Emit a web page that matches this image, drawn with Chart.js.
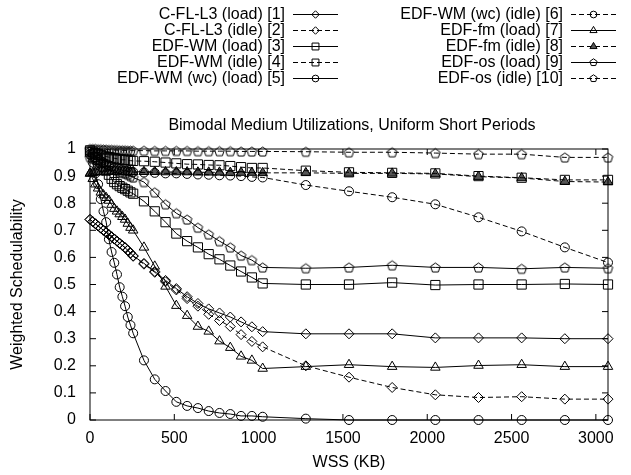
<!DOCTYPE html>
<html>
<head>
<meta charset="utf-8">
<script src="https://cdn.jsdelivr.net/npm/chart.js@4.4.0/dist/chart.umd.min.js"></script>
<style>
  html, body { margin: 0; padding: 0; background: #fff; }
</style>
</head>
<body>
<canvas id="schedChart" width="631" height="475"></canvas>
<script>
// WSS (KB) sample points
var wss = [0, 16, 32, 48, 64, 80, 96, 112, 128, 144, 160, 176, 192, 208, 224, 240, 256,
  320, 384, 448, 512, 576, 640, 704, 768, 832, 896, 960, 1024,
  1280, 1536, 1792, 2048, 2304, 2560, 2816, 3072];

var cfl3Load = [0.74, 0.732, 0.724, 0.716, 0.708, 0.70, 0.692, 0.684, 0.676, 0.668, 0.66, 0.652, 0.644, 0.636, 0.626, 0.616, 0.606,
  0.578, 0.548, 0.515, 0.485, 0.455, 0.43, 0.41, 0.395, 0.38, 0.362, 0.344, 0.326,
  0.318, 0.318, 0.318, 0.303, 0.303, 0.303, 0.30, 0.30];
var cfl3Idle = [0.74, 0.732, 0.724, 0.716, 0.708, 0.70, 0.692, 0.684, 0.676, 0.668, 0.66, 0.652, 0.644, 0.636, 0.626, 0.616, 0.604,
  0.575, 0.545, 0.51, 0.48, 0.448, 0.42, 0.39, 0.367, 0.345, 0.315, 0.29, 0.27,
  0.20, 0.158, 0.12, 0.093, 0.083, 0.086, 0.077, 0.077];
var wmLoad = [0.99, 0.98, 0.97, 0.96, 0.95, 0.935, 0.92, 0.905, 0.89, 0.878, 0.87, 0.863, 0.857, 0.852, 0.846, 0.84, 0.835,
  0.807, 0.77, 0.73, 0.688, 0.66, 0.637, 0.612, 0.593, 0.57, 0.548, 0.526, 0.504,
  0.50, 0.50, 0.507, 0.498, 0.50, 0.50, 0.502, 0.50];
var wmIdle = [0.995, 0.99, 0.985, 0.98, 0.978, 0.975, 0.972, 0.97, 0.968, 0.966, 0.964, 0.962, 0.96, 0.96, 0.958, 0.957, 0.956,
  0.955, 0.953, 0.95, 0.947, 0.944, 0.943, 0.941, 0.94, 0.937, 0.933, 0.93, 0.93,
  0.92, 0.914, 0.912, 0.91, 0.90, 0.894, 0.886, 0.886];
var wmWcLoad = [0.98, 0.95, 0.91, 0.87, 0.815, 0.77, 0.73, 0.667, 0.62, 0.58, 0.537, 0.49, 0.455, 0.42, 0.38, 0.35, 0.32,
  0.22, 0.15, 0.107, 0.067, 0.052, 0.044, 0.033, 0.026, 0.022, 0.015, 0.015, 0.012,
  0.005, 0, 0, 0, 0, 0, 0, 0];
var wmWcIdle = [0.99, 0.98, 0.97, 0.96, 0.955, 0.95, 0.945, 0.94, 0.935, 0.93, 0.928, 0.925, 0.922, 0.92, 0.918, 0.916, 0.915,
  0.913, 0.912, 0.91, 0.91, 0.908, 0.906, 0.905, 0.903, 0.902, 0.90, 0.897, 0.895,
  0.867, 0.844, 0.822, 0.796, 0.748, 0.696, 0.637, 0.581];
var fmLoad = [0.91, 0.89, 0.87, 0.855, 0.84, 0.83, 0.82, 0.81, 0.795, 0.78, 0.77, 0.76, 0.75, 0.74, 0.725, 0.71, 0.70,
  0.637, 0.567, 0.493, 0.422, 0.385, 0.345, 0.327, 0.291, 0.267, 0.235, 0.22, 0.19,
  0.197, 0.204, 0.197, 0.194, 0.201, 0.204, 0.197, 0.197];
var fmIdle = [0.91, 0.912, 0.914, 0.915, 0.916, 0.916, 0.917, 0.917, 0.917, 0.917, 0.917, 0.917, 0.917, 0.916, 0.916, 0.916, 0.916,
  0.916, 0.916, 0.915, 0.915, 0.915, 0.914, 0.914, 0.914, 0.913, 0.913, 0.913, 0.912,
  0.912, 0.91, 0.91, 0.908, 0.898, 0.893, 0.88, 0.878];
var osLoad = [0.97, 0.965, 0.96, 0.955, 0.95, 0.945, 0.94, 0.935, 0.93, 0.925, 0.92, 0.915, 0.912, 0.91, 0.905, 0.90, 0.895,
  0.878, 0.84, 0.796, 0.763, 0.74, 0.71, 0.685, 0.66, 0.637, 0.607, 0.59, 0.563,
  0.56, 0.563, 0.571, 0.563, 0.563, 0.558, 0.563, 0.56];
var osIdle = [1.0, 1.0, 1.0, 0.999, 0.999, 0.998, 0.998, 0.997, 0.997, 0.996, 0.996, 0.995, 0.995, 0.995, 0.994, 0.994, 0.994,
  0.994, 0.993, 0.993, 0.993, 0.993, 0.992, 0.992, 0.992, 0.992, 0.991, 0.991, 0.991,
  0.99, 0.988, 0.988, 0.985, 0.981, 0.981, 0.969, 0.969];

var xTicks = [0, 500, 1000, 1500, 2000, 2500, 3000];
var chartTitle = 'Bimodal Medium Utilizations, Uniform Short Periods';

Chart.defaults.font.family = "'Liberation Sans', Arial, sans-serif";
Chart.defaults.font.size = 16;
Chart.defaults.color = '#000';

// pentagon marker (gnuplot style), drawn once into a small canvas
function pentagonPath(ctx, cx, cy, r) {
  ctx.beginPath();
  for (var k = 0; k < 5; k++) {
    var a = -Math.PI / 2 + k * 2 * Math.PI / 5;
    var px = cx + r * Math.cos(a), py = cy + r * Math.sin(a);
    if (k === 0) ctx.moveTo(px, py); else ctx.lineTo(px, py);
  }
  ctx.closePath();
}
var pent = document.createElement('canvas');
pent.width = 13; pent.height = 13;
(function () {
  var c = pent.getContext('2d');
  c.strokeStyle = '#000';
  c.lineWidth = 1;
  pentagonPath(c, 6.5, 7, 5);
  c.stroke();
})();

var series = [
  { label: 'C-FL-L3 (load) [1]', data: cfl3Load, style: 'rectRot', r: 5, dash: [] },
  { label: 'C-FL-L3 (idle) [2]', data: cfl3Idle, style: 'rectRot', r: 5, dash: [5, 3] },
  { label: 'EDF-WM (load) [3]', data: wmLoad, style: 'rect', r: 6.5, dash: [] },
  { label: 'EDF-WM (idle) [4]', data: wmIdle, style: 'rect', r: 6.5, dash: [5, 3] },
  { label: 'EDF-WM (wc) (load) [5]', data: wmWcLoad, style: 'circle', r: 4.5, dash: [] },
  { label: 'EDF-WM (wc) (idle) [6]', data: wmWcIdle, style: 'circle', r: 4.5, dash: [5, 3] },
  { label: 'EDF-fm (load) [7]', data: fmLoad, style: 'triangle', r: 5.5, dash: [] },
  { label: 'EDF-fm (idle) [8]', data: fmIdle, style: 'triangle', r: 5.5, dash: [5, 3], fill: '#555' },
  { label: 'EDF-os (load) [9]', data: osLoad, style: 'pentagon', r: 5, dash: [] },
  { label: 'EDF-os (idle) [10]', data: osIdle, style: 'pentagon', r: 5, dash: [5, 3] }
];

var datasets = series.map(function (s) {
  return {
    label: s.label,
    data: wss.map(function (w, i) { return { x: w, y: s.data[i] }; }),
    showLine: true,
    borderColor: '#000',
    borderWidth: 1,
    borderDash: s.dash,
    pointStyle: s.style === 'pentagon' ? pent : s.style,
    pointRadius: s.r,
    pointBorderColor: '#000',
    pointBorderWidth: 1,
    pointBackgroundColor: s.fill || 'rgba(0,0,0,0)',
    clip: false
  };
});

function drawMarker(ctx, style, x, y, r, fill) {
  ctx.beginPath();
  if (style === 'circle') {
    ctx.arc(x, y, r, 0, Math.PI * 2);
  } else if (style === 'rect') {
    var h = r * Math.SQRT1_2;
    ctx.rect(x - h, y - h, 2 * h, 2 * h);
  } else if (style === 'rectRot') {
    ctx.moveTo(x, y - r); ctx.lineTo(x + r, y); ctx.lineTo(x, y + r); ctx.lineTo(x - r, y); ctx.closePath();
  } else if (style === 'triangle') {
    for (var k = 0; k < 3; k++) {
      var a = k * 2 * Math.PI / 3;
      var px = x + Math.sin(a) * r, py = y - Math.cos(a) * r;
      if (k === 0) ctx.moveTo(px, py); else ctx.lineTo(px, py);
    }
    ctx.closePath();
  } else {
    pentagonPath(ctx, x, y, r);
  }
  if (fill) { ctx.fillStyle = fill; ctx.fill(); }
  ctx.stroke();
}

// frame with inward ticks on all four sides, title and the two-column key
var framePlugin = {
  id: 'gnuFrame',
  afterDraw: function (chart) {
    var ctx = chart.ctx, a = chart.chartArea;
    var xs = chart.scales.x, ys = chart.scales.y;
    ctx.save();
    ctx.strokeStyle = '#000';
    ctx.lineWidth = 1;
    ctx.setLineDash([]);
    ctx.strokeRect(a.left, a.top, a.right - a.left, a.bottom - a.top);
    ctx.beginPath();
    xs.ticks.forEach(function (t) {
      var px = xs.getPixelForValue(t.value);
      ctx.moveTo(px, a.bottom); ctx.lineTo(px, a.bottom - 6);
      ctx.moveTo(px, a.top); ctx.lineTo(px, a.top + 6);
    });
    ys.ticks.forEach(function (t) {
      var py = ys.getPixelForValue(t.value);
      ctx.moveTo(a.left, py); ctx.lineTo(a.left + 6, py);
      ctx.moveTo(a.right, py); ctx.lineTo(a.right - 6, py);
    });
    ctx.stroke();

    ctx.font = "16px 'Liberation Sans', Arial, sans-serif";
    ctx.fillStyle = '#000';
    ctx.textAlign = 'center';
    ctx.textBaseline = 'middle';
    ctx.fillText(chartTitle, 352, 126);

    ctx.textAlign = 'right';
    series.forEach(function (s, i) {
      var col = i < 5 ? 0 : 1;
      var row = i % 5;
      var tx = col ? 563 : 285;
      var y = 14 + row * 16;
      ctx.fillStyle = '#000';
      ctx.fillText(s.label, tx, y + 1);
      ctx.setLineDash(s.dash);
      ctx.beginPath();
      ctx.moveTo(tx + 8, y + 0.5); ctx.lineTo(tx + 53, y + 0.5);
      ctx.stroke();
      ctx.setLineDash([]);
      drawMarker(ctx, s.style, tx + 30.5, y + 0.5, s.r * 0.75, s.fill);
    });
    ctx.restore();
  }
};

new Chart(document.getElementById('schedChart'), {
  type: 'scatter',
  data: { datasets: datasets },
  plugins: [framePlugin],
  options: {
    responsive: false,
    animation: false,
    devicePixelRatio: 1,
    layout: { padding: { left: 0, right: 23, top: 149, bottom: 0 } },
    plugins: {
      legend: { display: false },
      tooltip: { enabled: false },
      title: { display: false }
    },
    scales: {
      x: {
        type: 'linear',
        min: 0,
        max: 3072,
        grid: { display: false, drawTicks: false },
        border: { display: false },
        afterBuildTicks: function (s) {
          s.ticks = xTicks.map(function (v) { return { value: v }; });
        },
        afterFit: function (s) { s.height = 55; },
        ticks: {
          color: '#000', padding: 9, maxRotation: 0, autoSkip: false,
          callback: function (v) { return String(v); }
        },
        title: { display: true, text: 'WSS (KB)', color: '#000', padding: { top: 0, bottom: 3 } }
      },
      y: {
        min: 0,
        max: 1,
        grid: { display: false, drawTicks: false },
        border: { display: false },
        afterFit: function (s) { s.width = 90; },
        ticks: {
          stepSize: 0.1, color: '#000', padding: 14,
          callback: function (v) { return String(Math.round(v * 10) / 10); }
        },
        title: { display: true, text: 'Weighted Schedulability', color: '#000', padding: { top: 8, bottom: 0 } }
      }
    }
  }
});
</script>
</body>
</html>
